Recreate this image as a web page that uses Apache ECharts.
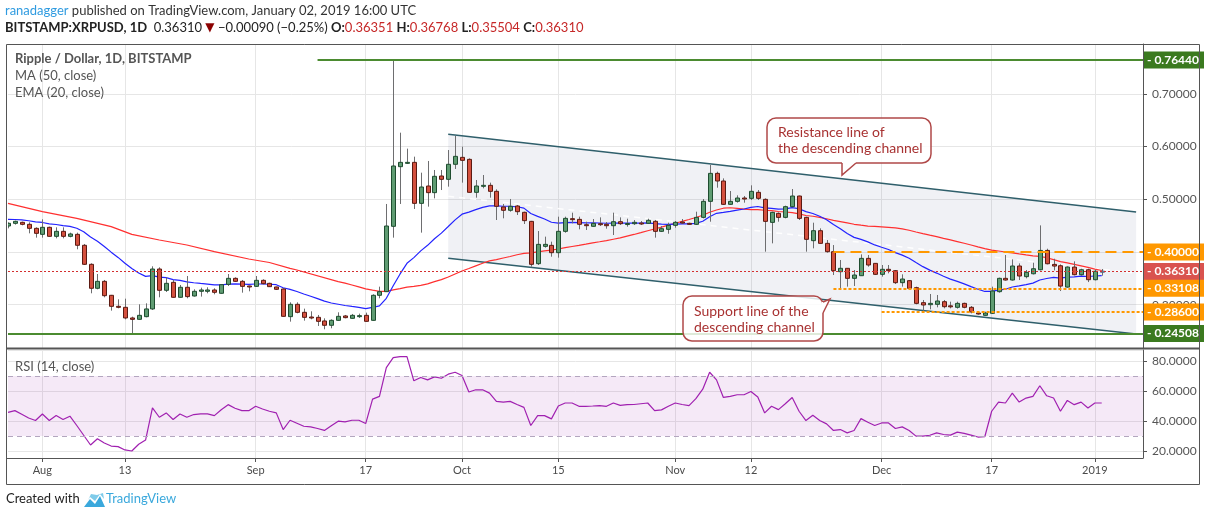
<!DOCTYPE html>
<html>
<head>
<meta charset="utf-8">
<title>Ripple / Dollar, 1D, BITSTAMP</title>
<script src="https://cdn.jsdelivr.net/npm/echarts@6/dist/echarts.min.js"></script>
<style>
  html, body { margin: 0; padding: 0; background: #fff; }
  #chart { width: 1207px; height: 520px; }
</style>
</head>
<body>
<div id="chart"></div>
<script>
// daily candles, 27 Jul 2018 .. 2 Jan 2019 (axis runs on to 8 Jan)
const firstDay = Date.UTC(2018, 6, 27);
const dayCount = 166;

const tickIdx = [5, 17, 36, 52, 66, 80, 97, 108, 127, 143, 158];
const tickText = ['Aug', '13', 'Sep', '17', 'Oct', '15', 'Nov', '12', 'Dec', '17', '2019'];

const opens = [
  .4493,.4544,.4563,.4525,.4449,.4335,.4468,.4297,.4392,.4297,
  .4335,.4127,.3766,.3311,.3443,.3178,.2969,.2950,.2748,.2722,
  .2773,.2919,.3677,.3273,.3424,.3140,.3330,.3165,.3254,.3254,
  .3279,.3216,.3386,.3500,.3443,.3355,.3348,.3462,.3405,.3336,
  .3298,.2773,.3007,.2855,.2766,.2760,.2691,.2609,.2703,.2786,
  .2741,.2786,.2798,.2703,.3178,.3247,.4487,.5619,.5695,.5701,
  .4923,.5252,.5126,.5442,.5379,.5664,.5796,.5758,.5132,.5258,
  .5265,.5151,.4854,.4791,.4873,.4753,.4581,.3778,.4107,.4126,
  .3987,.4392,.4632,.4619,.4518,.4487,.4537,.4525,.4499,.4575,
  .4534,.4537,.4550,.4544,.4582,.4392,.4430,.4506,.4569,.4544,
  .4525,.4657,.4961,.5492,.5347,.4904,.4961,.5024,.5018,.5132,
  .4999,.4562,.4733,.4657,.4860,.5062,.4657,.4215,.4404,.4164,
  .4006,.3626,.3690,.3500,.3550,.3879,.3784,.3576,.3671,.3645,
  .3418,.3456,.3323,.3038,.3000,.3007,.3057,.2978,.2950,.3025,
  .2950,.2842,.2798,.2836,.3247,.3500,.3468,.3734,.3532,.3587,
  .3663,.4030,.3765,.3739,.3334,.3714,.3569,.3663,.3474,.36351
];
const highs = [
  .4563,.4595,.4576,.4563,.4468,.4620,.4481,.4468,.4468,.4367,
  .4367,.4152,.3785,.3582,.3469,.3185,.3102,.3114,.2773,.3007,
  .3026,.3728,.3709,.3519,.3469,.3374,.3544,.3292,.3323,.3330,
  .3311,.3386,.3582,.3519,.3469,.3361,.3544,.3481,.3417,.3342,
  .3311,.3045,.3045,.2925,.2874,.2805,.2741,.2722,.2855,.2805,
  .2824,.2830,.2849,.3197,.3342,.4911,.7644,.6264,.5961,.5809,
  .5505,.5727,.5556,.5556,.5935,.6201,.5999,.5777,.5366,.5461,
  .5316,.5189,.4911,.5006,.4892,.4765,.4590,.4398,.4291,.4196,
  .4670,.4670,.4746,.4670,.4575,.4626,.4657,.4569,.4746,.4657,
  .4632,.4607,.4588,.4632,.4607,.4493,.4556,.4588,.4626,.4556,
  .4765,.5005,.5650,.5524,.5397,.5157,.5075,.5062,.5265,.5176,
  .5018,.4765,.4752,.4879,.5195,.5070,.4670,.4556,.4449,.4227,
  .4132,.3848,.3695,.3658,.3955,.3943,.3790,.3753,.3753,.3658,
  .3576,.3468,.3342,.3089,.3203,.3184,.3089,.3057,.3057,.3038,
  .2975,.2867,.2867,.3342,.3513,.3943,.3860,.3784,.3658,.3796,
  .4505,.4062,.3872,.3765,.3727,.3822,.3682,.3682,.3663,.36768
];
const lows = [
  .4449,.4519,.4506,.4354,.4272,.4272,.4291,.4259,.4259,.4278,
  .4051,.3753,.3216,.3292,.3140,.2887,.2931,.2722,.24508,.2715,
  .2760,.2900,.3140,.3241,.3135,.3133,.3121,.3153,.3153,.3216,
  .3197,.3209,.3355,.3431,.3228,.3254,.3336,.3386,.3338,.3279,
  .2773,.2678,.2836,.2697,.2722,.2596,.2533,.2552,.2697,.2741,
  .2735,.2748,.2678,.2697,.3121,.3240,.4272,.4911,.5670,.4816,
  .4367,.4860,.5018,.5176,.5240,.5575,.5316,.5125,.5031,.5208,
  .5031,.4607,.4639,.4765,.4702,.4531,.3721,.3753,.4082,.3911,
  .3892,.4366,.4543,.4430,.4417,.4481,.4493,.4442,.4322,.4512,
  .4481,.4512,.4512,.4531,.4272,.4379,.4347,.4461,.4531,.4518,
  .4512,.4638,.4575,.5220,.4892,.4892,.4936,.4936,.4986,.4986,
  .4006,.4164,.4575,.4638,.4847,.4607,.4006,.4069,.4158,.3987,
  .3563,.3291,.3342,.3354,.3550,.3721,.3563,.3532,.3595,.3392,
  .3342,.3305,.3007,.2880,.2912,.2950,.2931,.2931,.2925,.2931,
  .2836,.2811,.2792,.2823,.3228,.3456,.3456,.3468,.3500,.3574,
  .3651,.3765,.3651,.3259,.3322,.3556,.3550,.3429,.3461,.35504
];
const closes = [
  .4544,.4582,.4525,.4449,.4354,.4468,.4297,.4392,.4297,.4342,
  .4127,.3766,.3311,.3443,.3171,.2969,.2950,.2748,.2722,.2798,
  .2919,.3677,.3273,.3405,.3140,.3330,.3153,.3254,.3279,.3279,
  .3235,.3380,.3500,.3443,.3348,.3342,.3462,.3399,.3342,.3292,
  .2779,.3007,.2855,.2760,.2754,.2684,.2609,.2703,.2779,.2754,
  .2798,.2792,.2684,.3178,.3247,.4493,.5632,.5701,.5701,.4923,
  .5233,.5126,.5436,.5379,.5664,.5815,.5739,.5132,.5252,.5265,
  .5151,.4867,.4791,.4867,.4765,.4595,.3766,.4145,.4145,.3987,
  .4392,.4638,.4619,.4525,.4512,.4543,.4525,.4499,.4575,.4537,
  .4540,.4563,.4537,.4601,.4392,.4442,.4506,.4563,.4556,.4531,
  .4657,.4961,.5492,.5347,.4904,.4961,.5024,.5012,.5151,.5018,
  .4581,.4752,.4657,.4860,.5062,.4638,.4240,.4404,.4164,.4006,
  .3645,.3690,.3500,.3563,.3879,.3753,.3576,.3671,.3645,.3418,
  .3487,.3310,.3025,.2994,.3025,.3070,.2962,.2972,.3025,.2950,
  .2861,.2823,.2842,.3260,.3500,.3468,.3734,.3544,.3614,.3682,
  .4030,.3777,.3733,.3353,.3714,.3569,.3663,.3474,.3635,.36310
];

// RSI(14)
const rsi = [
  45.8,46.9,44.5,42.0,40.3,44.7,40.3,43.6,41.0,43.2,
  37.0,30.5,24.0,28.2,25.3,23.3,22.9,20.7,20.0,24.5,
  27.3,48.7,42.5,45.4,41.0,44.7,42.5,44.3,44.7,44.7,
  43.6,47.5,50.9,48.5,46.9,46.9,49.8,48.0,46.5,45.4,
  34.3,40.5,38.5,36.5,36.1,35.0,33.7,36.8,39.9,39.4,
  40.5,40.5,38.3,54.6,56.4,75.6,82.2,82.9,82.9,66.8,
  69.0,67.4,69.4,68.5,71.2,72.5,70.3,59.3,60.8,60.8,
  58.6,53.1,52.6,53.1,51.0,49.1,37.0,43.6,43.6,41.4,
  50.0,52.0,52.0,49.8,49.8,50.0,50.3,49.8,52.0,50.4,
  50.9,51.0,51.5,52.0,46.9,47.4,49.8,52.0,51.0,50.2,
  54.9,61.2,72.5,67.4,55.7,56.4,57.5,57.5,59.7,56.0,
  45.4,49.8,47.6,51.5,55.7,46.5,40.3,43.8,40.3,38.1,
  33.7,34.3,32.1,33.7,41.6,39.2,37.0,38.7,38.7,35.0,
  36.1,33.7,29.9,29.9,30.5,32.1,31.0,30.6,32.6,31.7,
  30.6,29.3,29.5,46.5,52.6,52.0,58.6,52.6,55.3,56.4,
  63.5,56.8,55.3,46.5,53.7,50.9,52.6,48.7,52.0,52.0
];

// MA50 before a full 50-day window exists
const ma50LeadIdx = [0, 5, 10, 15, 18, 22, 26, 30, 35, 38, 41, 42, 48];
const ma50LeadVal = [0.4923, 0.4765, 0.4639, 0.4481, 0.4335, 0.4228, 0.4133, 0.4006, 0.3867, 0.3800, 0.3690, 0.3658, 0.3437];
const ema20Start = 0.462;

// descending channel (day index, price)
const chanIdx = [64, 164];
const chanUpper = [0.6235, 0.4757];
const chanLower = [0.3880, 0.2442];

// horizontal levels with boxed labels on the price scale
const levelValues = [0.7644, 0.4000, 0.3631, 0.33108, 0.2860, 0.24508];
const levelFrom = [45, 120, 0, 120, 127, 0];

// ---------------------------------------------------------------
const cats = [];
for (let i = 0; i < dayCount; i++) {
  cats.push(new Date(firstDay + i * 86400000).toISOString().slice(0, 10));
}

const ema = [];
closes.forEach((c, i) => {
  ema.push(i === 0 ? ema20Start : ema[i - 1] + (2 / 21) * (c - ema[i - 1]));
});

const ma50 = closes.map((c, i) => {
  if (i >= 49) {
    let s = 0;
    for (let j = i - 49; j <= i; j++) s += closes[j];
    return s / 50;
  }
  const p = ma50LeadIdx.indexOf(i);
  return p >= 0 ? ma50LeadVal[p] : null;
});

const candles = opens.map((o, i) => [i, o, closes[i], lows[i], highs[i]]);

const isTick = (index) => tickIdx.indexOf(index) >= 0;

const levelStyle = [
  { line: { color: '#4b8b30', width: 2, type: 'solid' }, bg: '#3b7a1f' },
  { line: { color: '#ff9800', width: 2, type: [11, 6] }, bg: '#ff9800' },
  { line: { color: '#d32f2f', width: 1, type: [2, 2] }, bg: '#d9534f' },
  { line: { color: '#ff9800', width: 2, type: [3, 2] }, bg: '#ff9800' },
  { line: { color: '#ff9800', width: 2, type: [3, 2] }, bg: '#ff9800' },
  { line: { color: '#4b8b30', width: 2, type: 'solid' }, bg: '#3b7a1f' }
];

const levelLines = levelValues.map((v, i) => [
  {
    coord: [cats[levelFrom[i]], v],
    lineStyle: levelStyle[i].line,
    label: {
      show: true, position: 'end', distance: 1,
      formatter: '- ' + v.toFixed(5),
      color: '#fff', backgroundColor: levelStyle[i].bg,
      fontFamily: 'Lato', fontWeight: 'bold', fontSize: 12,
      padding: [3, 5, 2, 3]
    }
  },
  { coord: [cats[dayCount - 1], v] }
]);

// rounded callout box with a small pointer
function callout(box, pointer, text, textPos) {
  const fill = 'rgba(255,255,255,0.82)';
  const stroke = '#b04848';
  return [
    { type: 'rect', z: 60, shape: { x: box[0], y: box[1], width: box[2], height: box[3], r: 9 },
      style: { fill: fill, stroke: stroke, lineWidth: 1.5 } },
    { type: 'polygon', z: 61, shape: { points: pointer }, style: { fill: '#fff' } },
    { type: 'line', z: 61, shape: { x1: pointer[0][0], y1: pointer[0][1], x2: pointer[2][0], y2: pointer[2][1] },
      style: { stroke: '#fff', lineWidth: 2.2 } },
    { type: 'polyline', z: 62, shape: { points: pointer }, style: { fill: 'none', stroke: stroke, lineWidth: 1.5 } },
    { type: 'text', z: 63, left: textPos[0], top: textPos[1],
      style: { text: text, font: '14px Lato', fill: '#a83232', lineHeight: 16 } }
  ];
}

const chart = echarts.init(document.getElementById('chart'));

const font = 'Lato';
const option = {
  animation: false,
  backgroundColor: '#fff',
  grid: [
    { left: 8, right: 64, top: 44, height: 304 },
    { left: 8, right: 64, top: 350, height: 108 }
  ],
  xAxis: [
    {
      type: 'category', gridIndex: 0, data: cats, boundaryGap: false,
      axisLine: { show: false }, axisTick: { show: false }, axisLabel: { show: false },
      splitLine: { show: true, interval: isTick, lineStyle: { color: '#e6e6e6' } }
    },
    {
      type: 'category', gridIndex: 1, data: cats, boundaryGap: false,
      axisLine: { show: true, lineStyle: { color: '#555' } },
      axisTick: { show: true, interval: isTick, length: 4, lineStyle: { color: '#555' } },
      axisLabel: {
        interval: isTick, color: '#4a4a4a', fontFamily: font, fontSize: 11, margin: 7,
        formatter: (value, index) => tickText[tickIdx.indexOf(index)] || ''
      },
      splitLine: { show: true, interval: isTick, lineStyle: { color: '#e6e6e6' } }
    }
  ],
  yAxis: [
    {
      type: 'value', gridIndex: 0, position: 'right',
      min: 0.2178, max: 0.7947, splitNumber: 5,
      axisLine: { show: true, lineStyle: { color: '#555' } },
      axisTick: { show: true, length: 4, lineStyle: { color: '#555' } },
      axisLabel: {
        color: '#555', fontFamily: font, fontSize: 12, margin: 9,
        showMinLabel: false, showMaxLabel: false,
        formatter: (v) => v.toFixed(5)
      },
      splitLine: { lineStyle: { color: '#e6e6e6' } }
    },
    {
      type: 'value', gridIndex: 1, position: 'right',
      min: 15.33, max: 87.33, splitNumber: 4,
      axisLine: { show: true, lineStyle: { color: '#555' } },
      axisTick: { show: true, length: 4, lineStyle: { color: '#555' } },
      axisLabel: {
        color: '#555', fontFamily: font, fontSize: 12, margin: 9,
        showMinLabel: false, showMaxLabel: false,
        formatter: (v) => v.toFixed(4)
      },
      splitLine: { lineStyle: { color: '#e6e6e6' } }
    }
  ],
  series: [
    {
      // channel body, edges and dashed midline
      type: 'custom', xAxisIndex: 0, yAxisIndex: 0, z: 1, silent: true,
      data: [[chanIdx[0], chanUpper[0]]],
      renderItem: (params, api) => {
        const u0 = api.coord([chanIdx[0], chanUpper[0]]);
        const u1 = api.coord([chanIdx[1], chanUpper[1]]);
        const l0 = api.coord([chanIdx[0], chanLower[0]]);
        const l1 = api.coord([chanIdx[1], chanLower[1]]);
        const m0 = [(u0[0] + l0[0]) / 2, (u0[1] + l0[1]) / 2];
        const m1 = [(u1[0] + l1[0]) / 2, (u1[1] + l1[1]) / 2];
        return {
          type: 'group',
          children: [
            { type: 'polygon', shape: { points: [u0, u1, l1, l0] }, style: { fill: 'rgba(120,132,160,0.11)' } },
            { type: 'line', shape: { x1: m0[0], y1: m0[1], x2: m1[0], y2: m1[1] },
              style: { stroke: 'rgba(255,255,255,0.9)', lineWidth: 1.5, lineDash: [6, 5] } },
            { type: 'line', shape: { x1: u0[0], y1: u0[1], x2: u1[0], y2: u1[1] },
              style: { stroke: '#2f5f6b', lineWidth: 1.5 } },
            { type: 'line', shape: { x1: l0[0], y1: l0[1], x2: l1[0], y2: l1[1] },
              style: { stroke: '#2f5f6b', lineWidth: 1.5 } }
          ]
        };
      }
    },
    {
      name: 'MA (50, close)', type: 'line', xAxisIndex: 0, yAxisIndex: 0, z: 2,
      data: ma50, connectNulls: true, showSymbol: false, silent: true,
      lineStyle: { color: '#ff3030', width: 1.2 },
      markLine: { symbol: ['none', 'none'], silent: true, data: levelLines }
    },
    {
      name: 'EMA (20, close)', type: 'line', xAxisIndex: 0, yAxisIndex: 0, z: 2,
      data: ema, showSymbol: false, silent: true,
      lineStyle: { color: '#2323ff', width: 1.2 }
    },
    {
      name: 'XRPUSD', type: 'custom', xAxisIndex: 0, yAxisIndex: 0, z: 3, clip: true,
      data: candles,
      encode: { x: 0, y: [1, 2, 3, 4] },
      renderItem: (params, api) => {
        const i = api.value(0);
        const o = api.value(1), c = api.value(2);
        const pO = api.coord([i, o]);
        const pC = api.coord([i, c]);
        const pL = api.coord([i, api.value(3)]);
        const pH = api.coord([i, api.value(4)]);
        const x = Math.round(pO[0]) + 0.5;
        const w = Math.max(3, Math.round(api.size([1, 0])[0] * 0.62));
        const up = c >= o;
        const top = Math.min(pO[1], pC[1]);
        const h = Math.max(Math.abs(pO[1] - pC[1]), 1);
        const last = i === opens.length - 1;
        return {
          type: 'group',
          children: [
            { type: 'line', shape: { x1: x, y1: pH[1], x2: x, y2: pL[1] },
              style: { stroke: '#6e6e70', lineWidth: 1 } },
            { type: 'rect', shape: { x: x - w / 2, y: top, width: w, height: h },
              style: {
                fill: last ? '#f3f3f3' : (up ? '#5f9c72' : '#d4503e'),
                stroke: last ? '#3f5a7a' : (up ? '#1f4d30' : '#5c1a12'),
                lineWidth: 1
              } }
          ]
        };
      }
    },
    {
      name: 'RSI (14, close)', type: 'line', xAxisIndex: 1, yAxisIndex: 1, z: 3,
      data: rsi, showSymbol: false, silent: true,
      lineStyle: { color: '#a020b0', width: 1.2 },
      markArea: {
        silent: true,
        itemStyle: { color: 'rgba(156,39,176,0.10)' },
        data: [[{ yAxis: 30 }, { yAxis: 70 }]]
      },
      markLine: {
        symbol: ['none', 'none'], silent: true, label: { show: false },
        lineStyle: { color: '#b3a6bf', type: [5, 4], width: 1 },
        data: [{ yAxis: 70 }, { yAxis: 30 }]
      }
    }
  ],
  graphic: [
    // header
    {
      type: 'text', left: 5, top: 4, z: 100,
      style: {
        text: '{u|ranadagger} published on TradingView.com, January 02, 2019 16:00 UTC',
        font: '13px Lato', fill: '#333',
        rich: { u: { fill: '#2f9be0', font: '13px Lato' } }
      }
    },
    {
      type: 'text', left: 5, top: 21, z: 100,
      style: {
        text: '{b|BITSTAMP:XRPUSD, 1D}  0.36310 {t|▼} −0.00090 (−0.25%) {b|O:}{v|0.36351} {b|H:}{v|0.36768} {b|L:}{v|0.35504} {b|C:}{v|0.36310}',
        font: '13px Lato', fill: '#222',
        rich: {
          b: { font: 'bold 13px Lato', fill: '#222' },
          v: { font: '13px Lato', fill: '#c62828' },
          t: { font: '12px DejaVu Sans', fill: '#8b0000' }
        }
      }
    },
    // pane legends
    { type: 'text', left: 15, top: 52, z: 100, style: { text: 'Ripple / Dollar, 1D, BITSTAMP', font: 'bold 13px Lato', fill: '#555' } },
    { type: 'text', left: 15, top: 69, z: 100, style: { text: 'MA (50, close)', font: '13px Lato', fill: '#555' } },
    { type: 'text', left: 15, top: 86, z: 100, style: { text: 'EMA (20, close)', font: '13px Lato', fill: '#555' } },
    { type: 'text', left: 15, top: 360, z: 100, style: { text: 'RSI (14, close)', font: '13px Lato', fill: '#555' } },
    // callouts
    ...callout([767, 118, 164, 45], [[856, 163], [842, 175], [842, 163]],
      'Resistance line of\nthe descending channel', [778, 124]),
    ...callout([683, 296, 140, 45], [[823, 302], [830, 299], [823, 313]],
      'Support line of the\ndescending channel', [694, 303]),
    // frame
    { type: 'rect', z: 100, shape: { x: 6.5, y: 44.5, width: 1193, height: 440 }, style: { fill: 'none', stroke: '#555', lineWidth: 1 } },
    { type: 'line', z: 100, shape: { x1: 6, y1: 348.5, x2: 1200, y2: 348.5 }, style: { stroke: '#555', lineWidth: 2 } },
    { type: 'line', z: 100, shape: { x1: 6, y1: 458.5, x2: 1143, y2: 458.5 }, style: { stroke: '#555', lineWidth: 1 } },
    // footer
    { type: 'text', left: 6, top: 492, z: 100, style: { text: 'Created with', font: '13px Lato', fill: '#222' } },
    { type: 'polygon', z: 100, shape: { points: [[84, 507], [90, 499], [95, 504], [100, 496], [105, 507]] }, style: { fill: '#3aa8dc' } },
    { type: 'polygon', z: 100, shape: { points: [[88, 500], [91, 494], [97, 495], [103, 493], [104, 499], [100, 494], [95, 501], [90, 497]] }, style: { fill: '#7fcbe9' } },
    { type: 'text', left: 106, top: 492, z: 100, style: { text: 'TradingView', font: '13px Lato', fill: '#3aa8dc' } }
  ]
};

chart.setOption(option);
</script>
</body>
</html>
